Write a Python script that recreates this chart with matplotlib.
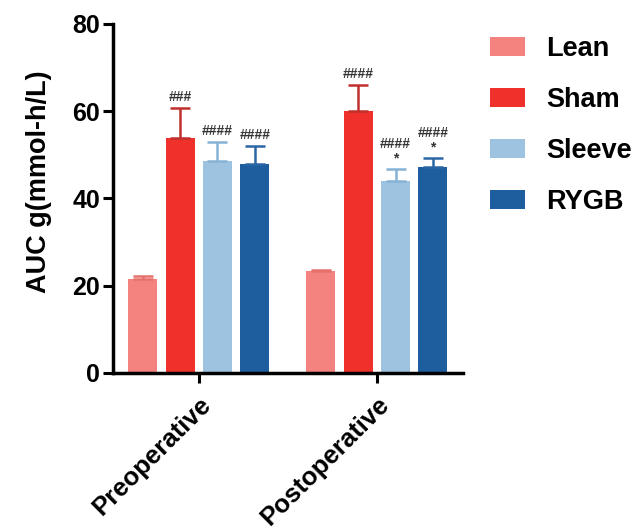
import matplotlib.pyplot as plt
import numpy as np

plt.rcParams['font.family'] = ['Liberation Sans', 'DejaVu Sans']
plt.rcParams['font.weight'] = 'bold'

groups = ['Preoperative', 'Postoperative']
series = ['Lean', 'Sham', 'Sleeve', 'RYGB']
colors = ['#F4837F', '#F0302B', '#9DC3E0', '#1E5E9E']
err_colors = ['#E8706C', '#C0302C', '#86B2D6', '#2A66A4']

means = {
    'Lean':   [21.6, 23.3],
    'Sham':   [53.9, 60.1],
    'Sleeve': [48.6, 44.0],
    'RYGB':   [47.9, 47.2],
}
sems = {
    'Lean':   [0.5, 0.4],
    'Sham':   [6.9, 5.9],
    'Sleeve': [4.4, 2.8],
    'RYGB':   [4.2, 2.1],
}
marks = {
    'Lean':   ['', ''],
    'Sham':   ['###', '####'],
    'Sleeve': ['####', '####\n*'],
    'RYGB':   ['####', '####\n*'],
}

fig = plt.figure(figsize=(6.41, 5.29), dpi=100)
ax = fig.add_axes([0.176, 0.295, 0.546, 0.66])

x = np.arange(len(groups))
step = 0.21
width = 0.163
for i, s in enumerate(series):
    pos = x + (i - 1.5) * step
    ax.bar(pos, means[s], width, color=colors[i], label=s, zorder=2)
    ax.errorbar(pos, means[s], yerr=[np.zeros(len(groups)), sems[s]], fmt='none',
                ecolor=err_colors[i], elinewidth=1.8, capsize=7, capthick=1.8, zorder=3)
    for j in range(len(groups)):
        if marks[s][j]:
            top = means[s][j] + sems[s][j]
            ax.text(pos[j], top + 0.8, marks[s][j], ha='center', va='bottom',
                    fontsize=10, fontweight='bold', color='#333333', linespacing=1.0)

ax.set_xlim(-0.483, 1.483)
ax.set_ylim(0, 80)
ax.set_yticks([0, 20, 40, 60, 80])
ax.set_xticks(x)
ax.set_xticklabels(groups, rotation=45, ha='right', rotation_mode='anchor')
ax.set_ylabel('AUC g(mmol-h/L)', fontsize=19.5, fontweight='bold')
ax.yaxis.set_label_coords(-0.175, 0.547)
ax.tick_params(axis='both', labelsize=18, width=2.2, length=7, pad=2)
ax.tick_params(axis='x', labelsize=18.5, pad=7)
for side in ['top', 'right']:
    ax.spines[side].set_visible(False)
for side in ['left', 'bottom']:
    ax.spines[side].set_linewidth(2.5)

ax.legend(loc='upper left', bbox_to_anchor=(1.077, 0.965), frameon=False,
          fontsize=19.5, handlelength=1.3, handleheight=0.7, labelspacing=0.92,
          handletextpad=0.78, borderpad=0, borderaxespad=0)

fig.savefig('out.png', dpi=100)
